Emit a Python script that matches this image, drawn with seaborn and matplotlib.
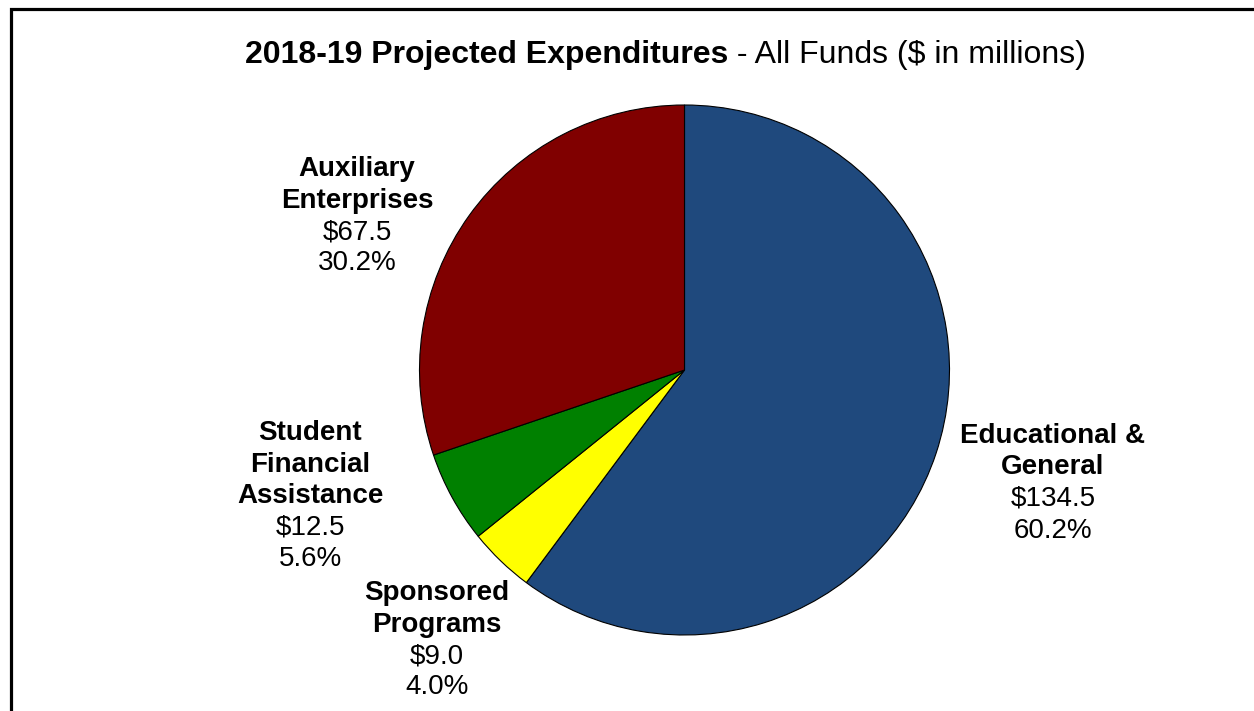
import matplotlib
matplotlib.use("Agg")
import matplotlib.pyplot as plt
import seaborn as sns

# Data
categories = ["Educational &\nGeneral", "Sponsored\nPrograms",
              "Student\nFinancial\nAssistance", "Auxiliary\nEnterprises"]
values = [134.5, 9.0, 12.5, 67.5]
colors = ["#1F497D", "#FFFF00", "#008000", "#800000"]

title_bold = "2018-19 Projected Expenditures"
title_rest = " - All Funds ($ in millions)"

sns.set_theme(style="white")
plt.rcParams["font.family"] = ["Liberation Sans", "DejaVu Sans"]

W, H = 1254, 711
fig = plt.figure(figsize=(W / 100, H / 100), dpi=100)
ax = fig.add_axes([0, 0, 1, 1])
ax.set_xlim(0, W)
ax.set_ylim(0, H)
ax.set_aspect("equal")
ax.axis("off")

cx, cy, r = 684.5, H - 370, 265
ax.pie(values, colors=colors, startangle=90, counterclock=False,
       center=(cx, cy), radius=r, frame=True,
       wedgeprops=dict(edgecolor="black", linewidth=0.8))
ax.set_xlim(0, W)
ax.set_ylim(0, H)
ax.axis("off")

total = sum(values)
# label anchor positions (pixel coords: x center, first baseline)
anchors = [(1053, 443), (437, 600), (310, 440), (357, 176)]
step = 31.5
fs = 20
for cat, v, (x, y0) in zip(categories, values, anchors):
    lines = cat.split("\n")
    allines = [(l, "bold") for l in lines] + [(f"${v:.1f}", "normal"),
                                              (f"{v / total * 100:.1f}%", "normal")]
    for i, (txt, wt) in enumerate(allines):
        ax.text(x, H - (y0 + i * step), txt, ha="center", va="baseline",
                fontsize=fs, fontweight=wt, color="black")

t1 = ax.text(245, H - 63, title_bold, ha="left", va="baseline",
             fontsize=23, fontweight="bold", color="black")
ax.annotate(title_rest, xy=(1, 0), xycoords=t1, xytext=(0, 0),
            textcoords="offset points", ha="left", va="bottom",
            fontsize=23, fontweight="normal", color="black")

# frame (left and top edges visible)
ax.plot([11, 11, W + 5], [-5, H - 9, H - 9], color="black", linewidth=2.3,
        clip_on=False, solid_joinstyle="miter")

fig.savefig("out.png", dpi=100)
